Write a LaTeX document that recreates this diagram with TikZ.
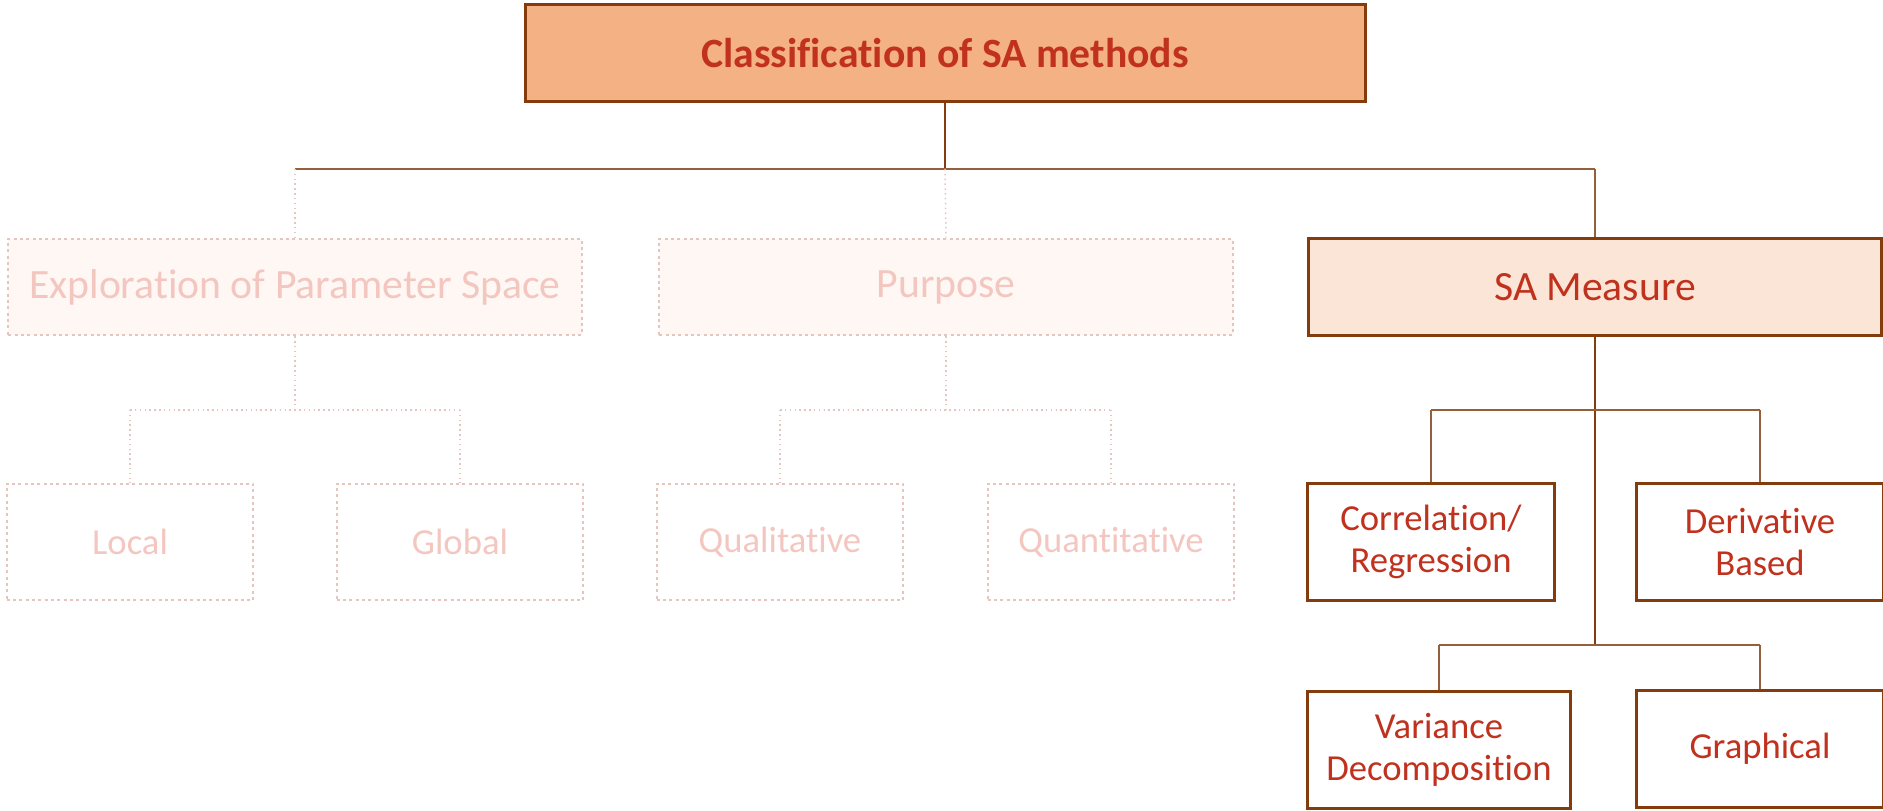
\documentclass[tikz,border=0pt]{standalone}
\usepackage{fontspec}
\setmainfont{Carlito}[Ligatures=NoCommon]
\definecolor{saRed}{RGB}{192,50,30}
\definecolor{saBrown}{RGB}{132,60,12}
\definecolor{saLink}{RGB}{150,95,60}
\definecolor{saOrange}{RGB}{244,177,131}
\definecolor{saPeach}{RGB}{251,229,214}
\definecolor{fadeLine}{RGB}{228,198,190}
\definecolor{fadeText}{RGB}{244,198,192}
\definecolor{fadeFill}{RGB}{254,247,243}
\tikzset{
  box/.style={draw=saBrown, line width=0.9pt, text=saRed, align=center, inner sep=0pt},
  rootbox/.style={box, fill=saOrange, minimum width=252pt, minimum height=29pt, font=\fontsize{12.5}{15}\selectfont\bfseries},
  catbox/.style={box, fill=saPeach, minimum width=172pt, minimum height=29pt, font=\fontsize{12.5}{15}\selectfont},
  leafbox/.style={box, fill=white, minimum width=74pt, minimum height=35pt, font=\fontsize{11}{12.5}\selectfont},
  faded/.style={draw=fadeLine, densely dotted, line width=0.6pt, text=fadeText},
  link/.style={draw=saLink, line width=0.45pt},
  trunk/.style={draw=saBrown, line width=0.75pt},
  fadelink/.style={draw=fadeLine, densely dotted, line width=0.45pt}
}
\begin{document}
\begin{tikzpicture}[x=0.3pt,y=0.3pt,yscale=-1,xscale=1]
\useasboundingbox (0,0) rectangle (1883,811);

%root
\node[rootbox] (root) at (945,53) {Classification of SA methods};

%second level
\node[catbox, faded, fill=fadeFill] (expl) at (295,287) {Exploration of Parameter Space};
\node[catbox, faded, fill=fadeFill] (purp) at (946,287) {Purpose};
\node[catbox] (meas) at (1595,287) {SA Measure};

%third level
\node[leafbox, faded] (loc) at (130,542) {Local};
\node[leafbox, faded] (glob) at (460,542) {Global};
\node[leafbox, faded] (qual) at (780,542) {Qualitative};
\node[leafbox, faded] (quan) at (1111,542) {Quantitative};
\node[leafbox] (corr) at (1431,542) {Correlation/\\Regression};
\node[leafbox] (deriv) at (1760,542) {Derivative\\Based};
\node[leafbox, minimum width=79pt] (var) at (1439,750) {Variance\\Decomposition};
\node[leafbox] (graph) at (1760,749) {Graphical};

%junctions
\coordinate (j0) at (945,169);
\coordinate (j1) at (295,410);
\coordinate (j2) at (946,410);
\coordinate (j3) at (1595,410);
\coordinate (j4) at (1595,645);

%root to categories
\draw[trunk] (root.south) -- (j0);
\draw[link] (j0 -| expl.north) -- (j0 -| meas.north);
\draw[link] (j0 -| meas.north) -- (meas.north);
\draw[fadelink] (j0 -| expl.north) -- (expl.north);
\draw[fadelink] (j0) -- (purp.north);

%exploration and purpose
\draw[fadelink] (expl.south) -- (j1);
\draw[fadelink] (j1 -| loc.north) -- (j1 -| glob.north);
\draw[fadelink] (j1 -| loc.north) -- (loc.north);
\draw[fadelink] (j1 -| glob.north) -- (glob.north);
\draw[fadelink] (purp.south) -- (j2);
\draw[fadelink] (j2 -| qual.north) -- (j2 -| quan.north);
\draw[fadelink] (j2 -| qual.north) -- (qual.north);
\draw[fadelink] (j2 -| quan.north) -- (quan.north);

%SA measure
\draw[trunk] (meas.south) -- (j4);
\draw[link] (j3 -| corr.north) -- (j3 -| deriv.north);
\draw[link] (j3 -| corr.north) -- (corr.north);
\draw[link] (j3 -| deriv.north) -- (deriv.north);
\draw[link] (j4 -| var.north) -- (j4 -| graph.north);
\draw[link] (j4 -| var.north) -- (var.north);
\draw[link] (j4 -| graph.north) -- (graph.north);
\end{tikzpicture}
\end{document}
